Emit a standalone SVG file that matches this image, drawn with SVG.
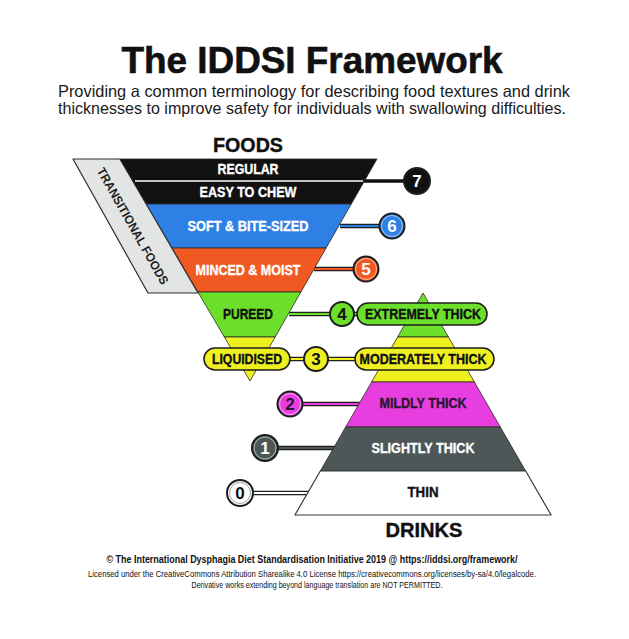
<svg xmlns="http://www.w3.org/2000/svg" width="629" height="639" viewBox="0 0 629 639">
<style>
.t{font-family:"Liberation Sans",Arial,sans-serif;}
.lbl{font-family:"Liberation Sans",Arial,sans-serif;font-weight:bold;font-size:14px;text-anchor:middle;stroke-width:0.35;}
.num{font-family:"Liberation Sans",Arial,sans-serif;font-weight:bold;font-size:17px;text-anchor:middle;}
.band{stroke:#2a2a2a;stroke-width:0.8;stroke-linejoin:round;}
.circ{stroke:#1e1e1e;stroke-width:2;}
.ring{fill:none;stroke:#ffffff;stroke-width:0.8;opacity:0.7;}
.pill{stroke:#1e1e1e;stroke-width:1.6;}
.tubeo{stroke:#1e1e1e;stroke-width:4.5;fill:none;stroke-linecap:butt;}
.tubei{stroke-width:2;fill:none;stroke-linecap:butt;}
</style>
<rect width="629" height="639" fill="#ffffff"/>

<g id="header">
<text class="t" x="312" y="73" font-size="36" font-weight="bold" text-anchor="middle" textLength="381" lengthAdjust="spacingAndGlyphs" fill="#111" stroke="#111" stroke-width="0.6">The IDDSI Framework</text>
<text class="t" x="314" y="97" font-size="16.5" text-anchor="middle" textLength="512" lengthAdjust="spacingAndGlyphs" fill="#1a1a1a">Providing a common terminology for describing food textures and drink</text>
<text class="t" x="312" y="114" font-size="16.5" text-anchor="middle" textLength="508" lengthAdjust="spacingAndGlyphs" fill="#1a1a1a">thicknesses to improve safety for individuals with swallowing difficulties.</text>
</g>

<g id="foods-title">
<text class="t" x="248" y="152" font-size="21" font-weight="bold" text-anchor="middle" textLength="70" lengthAdjust="spacingAndGlyphs" fill="#111" stroke="#111" stroke-width="0.4">FOODS</text>
</g>

<g id="transitional-foods">
<polygon points="73,159 120,159 198,293 148,293" fill="#e3e5e5" stroke="#2e2e2e" stroke-width="1.2" stroke-linejoin="round"/>
<text class="t" transform="translate(133,226) rotate(60.5)" x="0" y="4.5" font-size="12.5" font-weight="bold" text-anchor="middle" textLength="132" lengthAdjust="spacingAndGlyphs" fill="#1e1e1e">TRANSITIONAL FOODS</text>
</g>

<g id="connectors">
<line x1="364" y1="181" x2="405" y2="181" stroke="#111" stroke-width="3.5"/>
<line class="tubeo" x1="340" y1="226" x2="381" y2="226"/>
<line class="tubei" x1="340" y1="226" x2="381" y2="226" stroke="#2e80e4"/>
<line class="tubeo" x1="314" y1="269" x2="355" y2="269"/>
<line class="tubei" x1="314" y1="269" x2="355" y2="269" stroke="#f05a22"/>
<line class="tubeo" x1="289" y1="314" x2="360" y2="314"/>
<line class="tubei" x1="289" y1="314" x2="360" y2="314" stroke="#6cdf2a"/>
<line class="tubeo" x1="288" y1="359" x2="357" y2="359"/>
<line class="tubei" x1="288" y1="359" x2="357" y2="359" stroke="#eef020"/>
<line class="tubeo" x1="301" y1="404" x2="360" y2="404"/>
<line class="tubei" x1="301" y1="404" x2="360" y2="404" stroke="#e83ee0"/>
<line class="tubeo" x1="276" y1="448" x2="335" y2="448"/>
<line class="tubei" x1="276" y1="448" x2="335" y2="448" stroke="#4d5757"/>
<line class="tubeo" x1="251" y1="493" x2="309" y2="493"/>
<line class="tubei" x1="251" y1="493" x2="309" y2="493" stroke="#ffffff"/>
</g>

<g id="level-7-regular">
<polygon class="band" points="120,159 377,159 351.3,204 146.4,204" fill="#111111"/>
<line x1="135" y1="181" x2="363" y2="181" stroke="#ffffff" stroke-width="1.4"/>
<text class="lbl" x="248" y="174" textLength="61" lengthAdjust="spacingAndGlyphs" fill="#ffffff" stroke="#ffffff">REGULAR</text>
<text class="lbl" x="248" y="197" textLength="97" lengthAdjust="spacingAndGlyphs" fill="#ffffff" stroke="#ffffff">EASY TO CHEW</text>
<circle class="circ" cx="417" cy="181" r="13" fill="#111111"/>
<text class="num" x="417" y="187" fill="#ffffff">7</text>
</g>

<g id="level-6-soft">
<polygon class="band" points="146.4,204 351.3,204 326.1,248 172.2,248" fill="#2e80e4"/>
<text class="lbl" x="248" y="231" textLength="121" lengthAdjust="spacingAndGlyphs" fill="#ffffff" stroke="#ffffff">SOFT &amp; BITE-SIZED</text>
<circle class="circ" cx="392" cy="226" r="12.5" fill="#2e80e4"/>
<circle class="ring" cx="392" cy="226" r="10.5"/>
<text class="num" x="392" y="232" fill="#ffffff">6</text>
</g>

<g id="level-5-minced">
<polygon class="band" points="172.2,248 326.1,248 300.9,292 197.9,292" fill="#f05a22"/>
<text class="lbl" x="248" y="275" textLength="105" lengthAdjust="spacingAndGlyphs" fill="#ffffff" stroke="#ffffff">MINCED &amp; MOIST</text>
<circle class="circ" cx="366" cy="269" r="12.5" fill="#f05a22"/>
<circle class="ring" cx="366" cy="269" r="10.5"/>
<text class="num" x="366" y="275" fill="#ffffff">5</text>
</g>

<g id="level-4-pureed">
<polygon class="band" points="197.9,292 300.9,292 275.2,337 224.3,337" fill="#6cdf2a"/>
<text class="lbl" x="248" y="319" textLength="50" lengthAdjust="spacingAndGlyphs" fill="#111" stroke="#111">PUREED</text>
</g>

<g id="level-3-liquidised">
<polygon class="band" points="224.3,337 275.2,337 250,381" fill="#eef020"/>
<rect class="pill" x="204" y="348" width="86" height="22" rx="11" fill="#eef020"/>
<text class="lbl" x="247" y="364" textLength="70" lengthAdjust="spacingAndGlyphs" fill="#111" stroke="#111">LIQUIDISED</text>
</g>

<g id="level-4-extremely-thick">
<polygon class="band" points="423,293 448.4,337 397.6,337" fill="#6cdf2a"/>
<circle class="circ" cx="342" cy="314" r="12" fill="#6cdf2a"/>
<text class="num" x="342" y="320" fill="#111">4</text>
</g>

<g id="level-3-moderately-thick">
<polygon class="band" points="397.6,337 448.4,337 474.4,382 371.6,382" fill="#eef020"/>
<circle class="circ" cx="316" cy="359" r="12" fill="#eef020"/>
<text class="num" x="316" y="365" fill="#111">3</text>
</g>

<g id="level-2-mildly-thick">
<polygon class="band" points="371.6,382 474.4,382 500.3,427 345.7,427" fill="#e83ee0"/>
<text class="lbl" x="423" y="408" textLength="87" lengthAdjust="spacingAndGlyphs" fill="#2a1530" stroke="#2a1530">MILDLY THICK</text>
<circle class="circ" cx="290" cy="404" r="12.5" fill="#e83ee0"/>
<circle class="ring" cx="290" cy="404" r="10.5"/>
<text class="num" x="290" y="410" fill="#2a1530">2</text>
</g>

<g id="level-1-slightly-thick">
<polygon class="band" points="345.7,427 500.3,427 525.7,471 320.3,471" fill="#4d5757"/>
<text class="lbl" x="423" y="453" textLength="103" lengthAdjust="spacingAndGlyphs" fill="#ffffff" stroke="#ffffff">SLIGHTLY THICK</text>
<circle class="circ" cx="265" cy="448" r="13" fill="#4d5757"/>
<circle class="ring" cx="265" cy="448" r="11"/>
<text class="num" x="265" y="454" fill="#ffffff">1</text>
</g>

<g id="level-0-thin">
<polygon points="320.3,471 525.7,471 551.1,515 294.9,515" fill="#ffffff" stroke="#3a3a3a" stroke-width="1.2" stroke-linejoin="round"/>
<text class="lbl" x="423" y="497" textLength="31" lengthAdjust="spacingAndGlyphs" fill="#111" stroke="#111">THIN</text>
<circle class="circ" cx="240" cy="493" r="13" fill="#ffffff"/>
<circle cx="240" cy="493" r="10.5" fill="none" stroke="#888" stroke-width="0.8"/>
<text class="num" x="240" y="499" fill="#111">0</text>
</g>

<g id="drink-pills">
<rect class="pill" x="357" y="303" width="130" height="22" rx="11" fill="#6cdf2a"/>
<text class="lbl" x="423" y="319" textLength="116" lengthAdjust="spacingAndGlyphs" fill="#111" stroke="#111">EXTREMELY THICK</text>
<rect class="pill" x="355" y="348" width="139" height="22" rx="11" fill="#eef020"/>
<text class="lbl" x="423" y="364" textLength="127" lengthAdjust="spacingAndGlyphs" fill="#111" stroke="#111">MODERATELY THICK</text>
</g>

<g id="drinks-title">
<text class="t" x="424" y="537" font-size="21" font-weight="bold" text-anchor="middle" textLength="77" lengthAdjust="spacingAndGlyphs" fill="#111" stroke="#111" stroke-width="0.4">DRINKS</text>
</g>

<g id="footer">
<text class="t" x="312" y="563" font-size="11" font-weight="bold" text-anchor="middle" textLength="411" lengthAdjust="spacingAndGlyphs" fill="#111">© The International Dysphagia Diet Standardisation Initiative 2019 @ https://iddsi.org/framework/</text>
<text class="t" x="312" y="577" font-size="8.5" text-anchor="middle" textLength="448" lengthAdjust="spacingAndGlyphs" fill="#111">Licensed under the CreativeCommons Attribution Sharealike 4.0 License https://creativecommons.org/licenses/by-sa/4.0/legalcode.</text>
<text class="t" x="317" y="588" font-size="8.5" text-anchor="middle" textLength="251" lengthAdjust="spacingAndGlyphs" fill="#111">Derivative works extending beyond language translation are NOT PERMITTED.</text>
</g>
</svg>
